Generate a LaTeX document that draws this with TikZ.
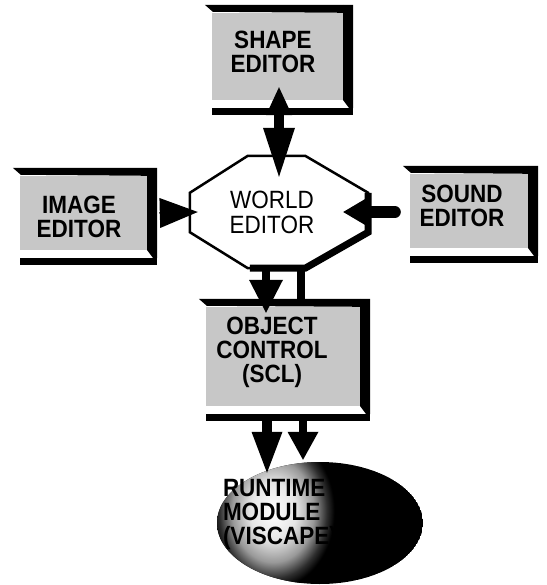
\documentclass[tikz,border=0pt]{standalone}
\usepackage{fontspec}
\newfontfamily\hvfont[FakeStretch=0.9]{Liberation Sans}
\usetikzlibrary{arrows.meta,calc,shapes.geometric}
\definecolor{panelgray}{gray}{0.78}
\pgfdeclareradialshading{glow}{\pgfpoint{0bp}{0bp}}{color(0bp)=(white); color(9bp)=(white!90!black); color(16bp)=(black!40); color(21bp)=(black!82); color(24bp)=(black); color(50bp)=(black)}
\newcommand{\panelframe}[1]{%
  \fill ($(#1.north west)+(-7,-8)$) -- ($(#1.north east)+(0,-8)$) -- (#1.north east) -- ($(#1.north west)+(1,-1)$) -- cycle;
  \fill ($(#1.north east)+(0,-8)$) -- ($(#1.north east)+(10,-8)$) -- ($(#1.south east)+(10,8)$) -- ($(#1.south east)+(6,8)$) -- (#1.south east) -- cycle;
  \fill ($(#1.south west)+(0,8)$) rectangle ($(#1.south east)+(10,15)$);
}
\begin{document}
\begin{tikzpicture}[x=1pt,y=-1pt,
  panel/.style={fill=panelgray, inner sep=0pt, draw=none},
  paneltext/.style={font=\hvfont\bfseries\fontsize{25}{24}\selectfont, align=center, inner sep=0pt},
  worldtext/.style={font=\hvfont\fontsize{25}{25}\selectfont, align=center, inner sep=0pt},
  conn/.style={line width=#1, draw=black}]
\useasboundingbox (0,0) rectangle (546,585);

% panels
\node[panel, minimum width=131, minimum height=87] (shape) at (277.5,56.5) {};
\node[panel, minimum width=127, minimum height=74] (image) at (83.5,213) {};
\node[panel, minimum width=118, minimum height=74] (sound) at (469,211) {};
\node[panel, minimum width=154, minimum height=99] (object) at (283,356.5) {};
\panelframe{shape}
\panelframe{image}
\panelframe{sound}
\panelframe{object}
\node[paneltext] (shapetext) at ($(shape)+(-4.5,-4.5)$) {SHAPE\\EDITOR};
\node[paneltext] (imagetext) at ($(image)+(-4.5,4)$) {IMAGE\\EDITOR};
\node[paneltext] (soundtext) at ($(sound)+(-7,-5)$) {SOUND\\EDITOR};
\node[paneltext] (objecttext) at ($(object)+(-11,-4)$) {OBJECT\\CONTROL\\(SCL)};

% world editor octagon
\node[inner sep=0pt, minimum width=178, minimum height=112] (world) at (279,212) {};
\draw[line width=2.5pt, fill=white, line join=miter]
  ($(world.north west)+(58,0)$) -- ($(world.north east)+(-63,0)$)
  -- ($(world.north east)+(0,37)$) -- ($(world.south east)+(0,-36)$)
  -- ($(world.south east)+(-63,0)$) -- ($(world.south west)+(58,0)$)
  -- ($(world.south west)+(0,-36)$) -- ($(world.north west)+(0,37)$) -- cycle;
\draw[line width=7pt, line join=miter]
  ($(world.south west)+(60,0)$) -- ($(world.south east)+(-63,0)$)
  -- ($(world.south east)+(0,-36)$) -- ($(world.north east)+(0,37)$);
\node[worldtext] (worldtext) at ($(world)+(-7,0.5)$) {WORLD\\EDITOR};

% runtime module
\node[ellipse, inner sep=0pt, minimum width=206, minimum height=122] (runtime) at (320,523) {};
\begin{scope}
  \clip (runtime.center) ellipse [x radius=103, y radius=61];
  \fill[black] (runtime.center) ellipse [x radius=103, y radius=61];
  \shade[shading=glow] ($(runtime.center)+(-47,-12)$) ellipse [x radius=64, y radius=80];
\end{scope}
\node[paneltext, align=left, anchor=west] (runtext) at ($(runtime.west)+(6,-9)$) {RUNTIME\\MODULE\\(VISCAPE)};

% connectors
\draw[conn=10pt, {Triangle[length=28pt,width=26pt,line width=0pt]}-{Triangle[length=49pt,width=32pt,line width=0pt]}]
  ($(shape.south)+(1.5,-13)$) -- ($(world.north)+(0,21)$);
\draw[conn=1pt, -{Triangle[length=38pt,width=30pt,line width=0pt]}]
  ($(image.east)+(12,0)$) -- ($(world.west)+(8,0)$);
\draw[conn=12pt, line cap=round, -{Triangle[length=27pt,width=32pt,line width=0pt]}]
  ($(sound.west)+(-15,1)$) -- ($(world.east)+(-25,0)$);
\draw[conn=8pt, -{Triangle[length=33pt,width=34pt,line width=0pt]}]
  ($(world.south)+(-13,2)$) -- ($(object.north)+(-17,6)$);
\draw[conn=8pt] ($(world.south)+(22,2)$) -- ($(object.north)+(18,-7)$);
\draw[conn=10pt, -{Triangle[length=41pt,width=31pt,line width=0pt]}]
  ($(object.south)+(-16,15)$) -- ($(runtime.north)+(-53,11)$);
\draw[conn=8pt, -{Triangle[length=28pt,width=31pt,line width=0pt]}]
  ($(object.south)+(20,15)$) -- ($(runtime.north)+(-17,-2)$);
\end{tikzpicture}
\end{document}
